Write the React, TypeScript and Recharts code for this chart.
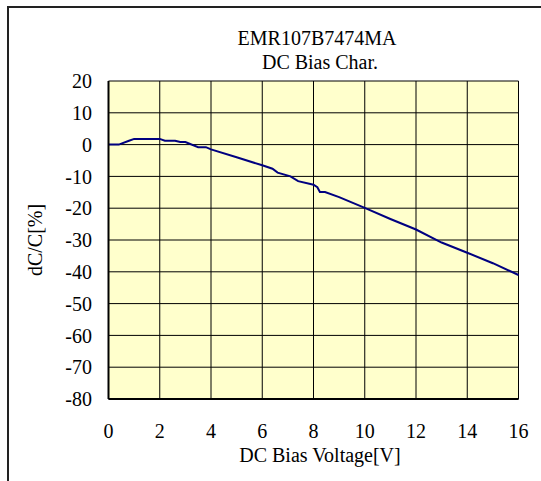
import React from 'react';
import { LineChart, Line, XAxis, YAxis, CartesianGrid } from 'recharts';

const voltage = [0, 0.4, 0.8, 1.0, 2.0, 2.2, 2.6, 2.8, 3.0, 3.5, 3.8, 4.0, 5.0, 6.0, 6.4, 6.6, 7.1, 7.4, 8.0, 8.15, 8.25, 8.45, 9.0, 10, 11, 12, 13, 14, 15, 16];
const dcPercent = [0, 0, 1.2, 1.8, 1.8, 1.2, 1.2, 0.8, 0.8, -0.8, -0.8, -1.5, -4.0, -6.5, -7.6, -8.8, -10.0, -11.5, -12.6, -13.4, -14.9, -14.9, -16.5, -19.9, -23.4, -26.7, -30.8, -34.0, -37.3, -41.0];
const xTicks = [0, 2, 4, 6, 8, 10, 12, 14, 16];
const yTicks = [20, 10, 0, -10, -20, -30, -40, -50, -60, -70, -80];
const titleLines = ['EMR107B7474MA', 'DC Bias Char.'];

const data = voltage.map((v, i) => ({ v, c: dcPercent[i] }));
const font = '"Liberation Serif", "Times New Roman", serif';

export default function App() {
  return (
    <div
      style={{
        position: 'fixed',
        left: 0,
        top: 0,
        width: 541,
        height: 481,
        overflow: 'hidden',
        background: '#fff',
      }}
    >
      <div
        style={{
          position: 'absolute',
          left: 7,
          top: 6,
          width: 534,
          height: 475,
          borderTop: '2px solid #222',
          borderLeft: '2px solid #222',
          background: '#fff',
          fontFamily: font,
        }}
      >
        <div style={{ position: 'relative', width: 530, height: 470 }}>
          <LineChart
            width={530}
            height={470}
            data={data}
            margin={{ top: 73, right: 20.5, left: 0, bottom: 0 }}
            style={{ fontFamily: font }}
          >
            <CartesianGrid stroke="#000" strokeWidth={1} fill="#FFFFCC" fillOpacity={1} />
            <XAxis
              dataKey="v"
              type="number"
              domain={[0, 16]}
              ticks={xTicks}
              tickLine={false}
              tickSize={0}
              tickMargin={24.5}
              height={79}
              axisLine={{ stroke: '#000', strokeWidth: 2 }}
              tick={{ fill: '#000', fontSize: 20, fontFamily: font }}
              interval={0}
              label={{ value: 'DC Bias Voltage[V]', position: 'insideBottom', offset: 16, dx: 6.5, fill: '#000', fontSize: 20, fontFamily: font }}
            />
            <XAxis
              xAxisId="top"
              orientation="top"
              type="number"
              domain={[0, 16]}
              height={0}
              tick={false}
              tickLine={false}
              axisLine={{ stroke: '#000', strokeWidth: 2 }}
            />
            <YAxis
              type="number"
              domain={[-80, 20]}
              ticks={yTicks}
              tickLine={false}
              tickSize={0}
              tickMargin={16.5}
              width={99.5}
              interval={0}
              axisLine={{ stroke: '#000', strokeWidth: 2 }}
              tick={{ fill: '#000', fontSize: 20, fontFamily: font }}
              label={{ value: 'dC/C[%]', angle: -90, position: 'insideLeft', offset: 26, fill: '#000', fontSize: 20, fontFamily: font, style: { textAnchor: 'middle' } }}
            />
            <YAxis
              yAxisId="right"
              orientation="right"
              type="number"
              domain={[-80, 20]}
              width={0}
              tick={false}
              tickLine={false}
              axisLine={{ stroke: '#000', strokeWidth: 2 }}
            />
            <Line
              type="linear"
              dataKey="c"
              stroke="#000080"
              strokeWidth={2}
              dot={false}
              isAnimationActive={false}
            />
          </LineChart>
          <svg
            width={530}
            height={80}
            style={{ position: 'absolute', left: 0, top: 0, pointerEvents: 'none' }}
          >
            <text x={308} y={37} textAnchor="middle" fontSize={20} fontFamily={font} fill="#000">
              {titleLines[0]}
            </text>
            <text x={311} y={60.5} textAnchor="middle" fontSize={20} fontFamily={font} fill="#000">
              {titleLines[1]}
            </text>
          </svg>
        </div>
      </div>
    </div>
  );
}
